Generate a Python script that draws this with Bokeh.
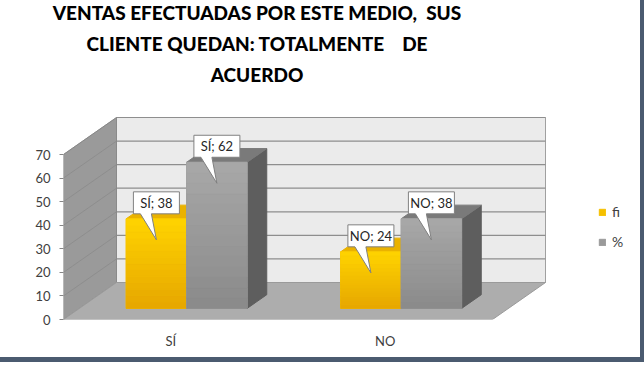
from bokeh.plotting import figure
from bokeh.models import Range1d, FixedTicker, Legend, LegendItem, Div, Column
from bokeh.core.properties import value
from bokeh.embed import file_html
from bokeh.resources import INLINE
import html

# ---------------- data ----------------
CATEGORIES = ["SÍ", "NO"]
SERIES = ["fi", "%"]
FI = [38, 24]
PCT = [62, 38]
Y_TICKS = [0, 10, 20, 30, 40, 50, 60, 70]
TITLE_LINES = ["VENTAS EFECTUADAS POR ESTE MEDIO,  SUS",
               "CLIENTE QUEDAN: TOTALMENTE    DE",
               "ACUERDO"]

# ---------------- layout / style ----------------
W = 644
TITLE_H = 95
H = 362 - TITLE_H
LEFT, BOTTOM = 63, 43
PX_X = 214.5           # px per category unit
PX_Y = 165.0 / 70.0    # px per value unit
X0 = 0.5
X_END = X0 + (W - LEFT) / PX_X
Y_END = (H - BOTTOM) / PX_Y
DX = 53.0 / PX_X       # floor depth, x (data units)
DY = 37.0 / PX_Y       # floor depth, y (data units)
WALL_TOP = Y_TICKS[-1]
N_CAT = len(CATEGORIES)
BAR_W = 60.5 / PX_X
D0, D1 = 0.30, 0.67
FONT = "Lato"
BORDER = "#4b5b70"
N_STRIPS = 14

COLORS = {
    "fi": {"top_grad": (0xff, 0xd4, 0x00), "bot_grad": (0xe6, 0xa6, 0x00),
           "mid": "#f5c000", "top": "#eab200", "side": "#c98f00"},
    "%": {"top_grad": (0xa8, 0xa8, 0xa8), "bot_grad": (0x8a, 0x8a, 0x8a),
          "mid": "#9a9a9a", "top": "#7a7a7a", "side": "#5e5e5e"},
}


def proj(x, v, d):
    return x + d * DX, v + d * DY


def poly(pts):
    xs, ys = zip(*pts)
    return list(xs), list(ys)


def lerp_col(c1, c2, t):
    return "#%02x%02x%02x" % tuple(int(round(a + (b - a) * t)) for a, b in zip(c1, c2))


p = figure(width=W, height=H, output_backend="svg", toolbar_location=None,
           x_range=Range1d(X0, X_END), y_range=Range1d(0, Y_END),
           min_border_left=LEFT, min_border_right=0, min_border_top=0,
           min_border_bottom=BOTTOM, margin=0)
p.outline_line_color = None
p.xgrid.visible = False
p.ygrid.visible = False
p.background_fill_color = "white"
p.border_fill_color = "white"
p.styles = {"border-right": f"4px solid {BORDER}", "border-bottom": f"5px solid {BORDER}"}

# ---------------- walls / floor ----------------
xr_floor = X0 + N_CAT
back = poly([proj(X0, 0, 1), proj(xr_floor, 0, 1), proj(xr_floor, WALL_TOP, 1), proj(X0, WALL_TOP, 1)])
side = poly([proj(X0, 0, 0), proj(X0, 0, 1), proj(X0, WALL_TOP, 1), proj(X0, WALL_TOP, 0)])
floor = poly([proj(X0, 0, 0), proj(xr_floor, 0, 0), proj(xr_floor, 0, 1), proj(X0, 0, 1)])
p.patch(back[0], back[1], fill_color="#ebebeb", line_color="#a0a0a0", line_width=1)
p.patch(side[0], side[1], fill_color="#9a9a9a", line_color="#8a8a8a", line_width=1)

gx, gy = [], []
sx, sy = [], []
for t in Y_TICKS[1:]:
    a, b = proj(X0, t, 1), proj(xr_floor, t, 1)
    gx.append([a[0], b[0]]); gy.append([a[1], b[1]])
    c, d = proj(X0, t, 0), proj(X0, t, 1)
    sx.append([c[0], d[0]]); sy.append([c[1], d[1]])
p.multi_line(gx, gy, line_color="#8e8e8e", line_width=1.2)
p.multi_line(sx, sy, line_color="#868686", line_width=1, line_alpha=0.6)
p.patch(floor[0], floor[1], fill_color="#adadad", line_color="#9a9a9a", line_width=1)

# ---------------- bars ----------------
front_r = {}
labels = []
for i, cat in enumerate(CATEGORIES):
    c = i + 1
    for s, (name, vals) in enumerate(zip(SERIES, [FI, PCT])):
        v = vals[i]
        xl = c - BAR_W + s * BAR_W
        xr = xl + BAR_W
        col = COLORS[name]
        sd = poly([proj(xr, 0, D0), proj(xr, v, D0), proj(xr, v, D1), proj(xr, 0, D1)])
        tp = poly([proj(xl, v, D0), proj(xr, v, D0), proj(xr, v, D1), proj(xl, v, D1)])
        fr = poly([proj(xl, 0, D0), proj(xr, 0, D0), proj(xr, v, D0), proj(xl, v, D0)])
        p.patch(sd[0], sd[1], fill_color=col["side"], line_color=col["side"])
        p.patch(tp[0], tp[1], fill_color=col["top"], line_color=col["top"])
        r = p.patch(fr[0], fr[1], fill_color=col["mid"], line_color=col["mid"])
        front_r.setdefault(name, r)
        # vertical shading of the front face
        sxs, sys_, scol = [], [], []
        for k in range(N_STRIPS):
            v0 = v * k / N_STRIPS
            v1 = v * (k + 1) / N_STRIPS
            q = poly([proj(xl, v0, D0), proj(xr, v0, D0), proj(xr, v1, D0), proj(xl, v1, D0)])
            sxs.append(q[0]); sys_.append(q[1])
            scol.append(lerp_col(col["bot_grad"], col["top_grad"], (k + 0.5) / N_STRIPS))
        p.patches(sxs, sys_, fill_color=scol, line_color=scol, line_width=0.6)
        fx = proj((xl + xr) / 2, v, D0)[0]
        ty = proj(xl, v, D0)[1]
        labels.append((fx, ty, f"{cat}; {v}"))

# ---------------- callouts ----------------
for fx, ty, txt in labels:
    bw = 23 / PX_X
    bot = ty + 5 / PX_Y
    top = bot + 22 / PX_Y
    pts = [(fx - bw, bot), (fx - 16 / PX_X, bot), (fx, ty - 21 / PX_Y), (fx - 5 / PX_X, bot),
           (fx + bw, bot), (fx + bw, top), (fx - bw, top)]
    cx, cy = poly(pts)
    p.patch(cx, cy, fill_color="white", line_color="#808080", line_width=1)
    p.text([fx], [(bot + top) / 2], text=[txt], text_align="center", text_baseline="middle",
           text_font=value(FONT), text_font_size="13px", text_color="#262626")

# ---------------- axes ----------------
p.yaxis.ticker = FixedTicker(ticks=Y_TICKS)
p.yaxis.axis_line_color = None
p.yaxis.major_tick_out = 4
p.yaxis.major_tick_in = 0
p.yaxis.major_tick_line_color = "#868686"
p.yaxis.minor_tick_line_color = None
p.yaxis.major_label_standoff = 9
p.yaxis.major_label_text_font = FONT
p.yaxis.major_label_text_font_size = "13px"
p.yaxis.major_label_text_color = "#404040"

p.xaxis.ticker = FixedTicker(ticks=list(range(1, N_CAT + 1)))
p.xaxis.major_label_overrides = {i + 1: c for i, c in enumerate(CATEGORIES)}
p.xaxis.axis_line_color = None
p.xaxis.major_tick_line_color = None
p.xaxis.major_tick_out = 0
p.xaxis.major_tick_in = 0
p.xaxis.minor_tick_line_color = None
p.xaxis.major_label_standoff = 13
p.xaxis.major_label_text_font = FONT
p.xaxis.major_label_text_font_size = "13px"
p.xaxis.major_label_text_color = "#404040"

# ---------------- legend ----------------
legend = Legend(items=[LegendItem(label=n, renderers=[front_r[n]]) for n in SERIES],
                location=(535, 69), glyph_width=8, glyph_height=8, label_height=16,
                spacing=13, padding=0, margin=0, label_standoff=6,
                border_line_alpha=0, background_fill_alpha=0,
                label_text_font=FONT, label_text_font_size="14px", label_text_color="#404040")
p.add_layout(legend)

# ---------------- title ----------------
title_html = "<br>".join(html.escape(t).replace("  ", "&nbsp; ") for t in TITLE_LINES)
title = Div(text=f'<div style="width:514px;text-align:center;font-family:Lato;font-weight:900;'
                 f'font-size:19px;line-height:31px;color:#000;margin-top:-3px">{title_html}</div>',
            width=W, height=TITLE_H, margin=0,
            styles={"border-right": f"4px solid {BORDER}", "background": "white"})

layout = Column(title, p, spacing=0, margin=0)
open("out.html", "w").write(file_html(layout, INLINE))
